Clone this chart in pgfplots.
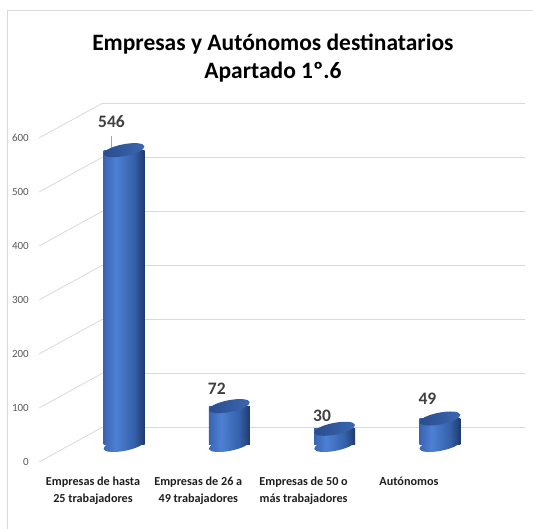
\documentclass[border=0pt]{standalone}
\usepackage{pgfplots}
\pgfplotsset{compat=1.18}
\usepackage{pgfplotstable}
\usepackage{fontspec}
\setmainfont{Carlito}
\definecolor{gridc}{HTML}{D9D9D9}
\definecolor{bodyA}{HTML}{3A64B2}
\definecolor{bodyB}{HTML}{4D80D4}
\definecolor{bodyC}{HTML}{3560AA}
\definecolor{bodyD}{HTML}{1F3A6C}
\definecolor{topA}{HTML}{2A4C8C}
\definecolor{topB}{HTML}{3B67B2}
\definecolor{ticktext}{HTML}{595959}
\definecolor{labtext}{HTML}{404040}
\pgfdeclarehorizontalshading{cylbody}{100bp}{color(0bp)=(bodyA); color(25bp)=(bodyA); color(40bp)=(bodyB); color(62bp)=(bodyC); color(75bp)=(bodyD); color(100bp)=(bodyD)}
\pgfdeclarehorizontalshading{cyltopsh}{100bp}{color(0bp)=(topA); color(25bp)=(topA); color(75bp)=(topB); color(100bp)=(topB)}
\pgfdeclareplotmark{cylbottom}{%
  \pgftransformrotate{11}%
  \pgfpathellipse{\pgfpointorigin}{\pgfqpoint{20.8pt}{0pt}}{\pgfqpoint{0pt}{5.9pt}}%
  \pgfshadepath{cylbody}{0}%
  \pgfusepath{}}
\pgfdeclareplotmark{cyltop}{%
  \pgftransformrotate{11}%
  \pgfpathellipse{\pgfpointorigin}{\pgfqpoint{20.8pt}{0pt}}{\pgfqpoint{0pt}{5.9pt}}%
  \pgfshadepath{cyltopsh}{0}%
  \pgfusepath{}}
\pgfplotsset{cylbar/.style={ybar, bar width=41pt, bar shift=0pt, draw=none, shade, shading=cylbody}}

\pgfplotstableread{
x y dy
0 546 22.7
1 72 11.3
2 30 7.3
3 49 14.3
}\labtab

\begin{document}
\begin{tikzpicture}
\path[use as bounding box] (0,0) rectangle (533pt,529pt);
\begin{axis}[
  at={(0,0)}, anchor=south west,
  scale only axis, width=533pt, height=529pt,
  xmin=-1.1776, xmax=3.884, ymin=-155.6, ymax=824.1,
  clip=false,
  axis line style={draw=none},
  major tick length=0pt,
  /pgf/number format/assume math mode=true,
  xtick={0,1,2,3},
  xticklabels={{Empresas de hasta\\25 trabajadores},{Empresas de 26 a\\49 trabajadores},{Empresas de 50 o\\más trabajadores},{Autónomos}},
  xticklabel style={align=center, anchor=north, inner sep=0pt, xshift=-31pt, yshift=52.5pt,
    font=\bfseries\fontsize{12.2}{17}\selectfont, text=black!88},
  ytick={-31.5,68.5,168.5,268.5,368.5,468.5,568.5},
  yticklabels={0,100,200,300,400,500,600},
  yticklabel style={anchor=east, inner sep=0pt, xshift=29pt,
    font=\fontsize{11}{12}\selectfont, text=ticktext},
  title={Empresas y Autónomos destinatarios\\Apartado 1º.6},
  title style={at={(0.512,0.924)}, anchor=north, align=center, inner sep=0pt,
    font=\bfseries\fontsize{23.5}{28}\selectfont, text=black},
]
% back wall gridlines
\addplot[gridc, line width=0.8pt, no marks] coordinates {(-0.209,32.4) (3.808,32.4)};
\addplot[gridc, line width=0.8pt, no marks] coordinates {(-0.209,132.4) (3.808,132.4)};
\addplot[gridc, line width=0.8pt, no marks] coordinates {(-0.209,232.4) (3.808,232.4)};
\addplot[gridc, line width=0.8pt, no marks] coordinates {(-0.209,332.4) (3.808,332.4)};
\addplot[gridc, line width=0.8pt, no marks] coordinates {(-0.209,432.4) (3.808,432.4)};
\addplot[gridc, line width=0.8pt, no marks] coordinates {(-0.209,532.4) (3.808,532.4)};
\addplot[gridc, line width=0.8pt, no marks] coordinates {(-0.209,632.4) (3.808,632.4)};
% side wall gridlines
\addplot[gridc, line width=0.8pt, no marks] coordinates {(-0.807,-31.5) (-0.209,32.4)};
\addplot[gridc, line width=0.8pt, no marks] coordinates {(-0.807,68.5) (-0.209,132.4)};
\addplot[gridc, line width=0.8pt, no marks] coordinates {(-0.807,168.5) (-0.209,232.4)};
\addplot[gridc, line width=0.8pt, no marks] coordinates {(-0.807,268.5) (-0.209,332.4)};
\addplot[gridc, line width=0.8pt, no marks] coordinates {(-0.807,368.5) (-0.209,432.4)};
\addplot[gridc, line width=0.8pt, no marks] coordinates {(-0.807,468.5) (-0.209,532.4)};
\addplot[gridc, line width=0.8pt, no marks] coordinates {(-0.807,568.5) (-0.209,632.4)};
% cylinder bottoms
\addplot[only marks, mark=cylbottom] coordinates {(0,0) (1,0) (2,0) (3,0)};
% cylinder bodies (one path each so each gets its own shading)
\addplot[cylbar] coordinates {(0,546)};
\addplot[cylbar] coordinates {(1,72)};
\addplot[cylbar] coordinates {(2,30)};
\addplot[cylbar] coordinates {(3,49)};
% cylinder tops
\addplot[only marks, mark=cyltop] coordinates {(0,546) (1,72) (2,30) (3,49)};
% data labels
\addplot[draw=none, mark=none,
  visualization depends on={\thisrow{dy} \as \dy},
  nodes near coords,
  every node near coord/.append style={inner sep=0pt, xshift=-12.5pt, yshift=\dy pt,
    font=\bfseries\fontsize{17.5}{20}\selectfont, text=labtext}]
  table[x=x, y=y] {\labtab};
\draw[gray!70, line width=0.6pt] ([xshift=-13pt,yshift=-5pt]axis cs:0,546) -- ([xshift=-13pt,yshift=14pt]axis cs:0,546);
\end{axis}
\draw[gridc, line width=1pt] (7pt,-5pt) -- (7pt,518pt) -- (545pt,518pt);
\end{tikzpicture}
\end{document}
